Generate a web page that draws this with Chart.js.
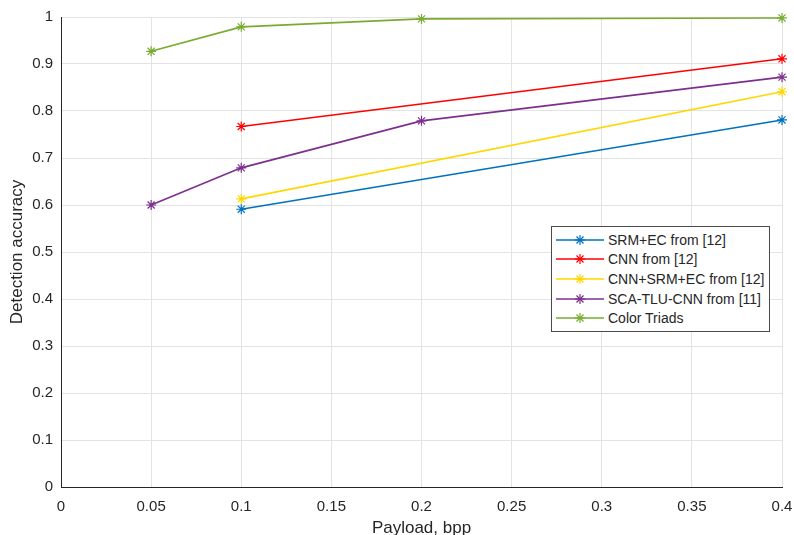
<!DOCTYPE html>
<html>
<head>
<meta charset="utf-8">
<script src="https://cdn.jsdelivr.net/npm/chart.js@4.4.0/dist/chart.umd.min.js"></script>
<style>
  html, body { margin: 0; padding: 0; background: #fff; }
  #wrap { position: relative; width: 794px; height: 535px; }
  #legend {
    position: absolute; left: 551px; top: 226px; width: 219px; height: 106px;
    border: 1px solid #4a4a4a; background: #fff; box-sizing: border-box;
    font-family: "Liberation Sans", Arial, sans-serif; font-size: 14px; color: #262626;
    padding-top: 3px;
  }
  #legend .row { height: 19.6px; display: flex; align-items: center; }
  #legend svg { margin-left: 4px; margin-right: 4px; }
</style>
</head>
<body>
<div id="wrap">
  <canvas id="accChart" width="794" height="535"></canvas>
  <div id="legend"></div>
</div>
<script>
// tick labels
const xTickLabels = ['0', '0.05', '0.1', '0.15', '0.2', '0.25', '0.3', '0.35', '0.4'];
const yTickLabels = ['0', '0.1', '0.2', '0.3', '0.4', '0.5', '0.6', '0.7', '0.8', '0.9', '1'];

// series (payload in bpp, detection accuracy)
const srmEcX = [0.1, 0.4];
const srmEcY = [0.591, 0.781];
const cnnX = [0.1, 0.4];
const cnnY = [0.767, 0.911];
const cnnSrmEcX = [0.1, 0.4];
const cnnSrmEcY = [0.613, 0.841];
const scaTluX = [0.05, 0.1, 0.2, 0.4];
const scaTluY = [0.600, 0.679, 0.779, 0.872];
const triadsX = [0.05, 0.1, 0.2, 0.4];
const triadsY = [0.927, 0.979, 0.996, 0.998];

const seriesNames = ['SRM+EC from [12]', 'CNN from [12]', 'CNN+SRM+EC from [12]', 'SCA-TLU-CNN from [11]', 'Color Triads'];
const seriesColors = ['#0072BD', '#FF0000', '#FFD700', '#7E2F8E', '#77AC30'];
const seriesX = [srmEcX, cnnX, cnnSrmEcX, scaTluX, triadsX];
const seriesY = [srmEcY, cnnY, cnnSrmEcY, scaTluY, triadsY];

const datasets = seriesNames.map(function(name, i) {
    return {
        label: name,
        data: seriesX[i].map(function(x, j) { return { x: x, y: seriesY[i][j] }; }),
        borderColor: seriesColors[i],
        backgroundColor: seriesColors[i],
        borderWidth: 1.6,
        pointStyle: 'star',
        pointRadius: 5,
        pointBorderWidth: 1.2,
        pointHoverRadius: 5,
        tension: 0,
        fill: false,
        clip: false
    };
});

const fontFamily = '"Liberation Sans", Arial, sans-serif';
const gridColor = '#e3e3e3';
const textColor = '#262626';

const ctx = document.getElementById('accChart').getContext('2d');
const accChart = new Chart(ctx, {
    type: 'line',
    data: { datasets: datasets },
    options: {
        responsive: false,
        animation: false,
        layout: { padding: { left: 0, right: 12, top: 17, bottom: 0 } },
        plugins: { legend: { display: false }, tooltip: { enabled: false } },
        scales: {
            x: {
                type: 'linear',
                min: 0,
                max: 0.4,
                afterFit: function(scale) {
                    scale.height = 48;
                    scale.paddingLeft = 0;
                    scale.paddingRight = 0;
                },
                afterBuildTicks: function(scale) {
                    scale.ticks = xTickLabels.map(function(t) { return { value: parseFloat(t) }; });
                },
                ticks: {
                    color: textColor,
                    font: { family: fontFamily, size: 15 },
                    padding: 11,
                    maxRotation: 0,
                    callback: function(value, index) { return xTickLabels[index]; }
                },
                grid: { color: gridColor, drawTicks: false },
                border: { color: textColor, width: 1 },
                title: {
                    display: true,
                    text: 'Payload, bpp',
                    color: textColor,
                    font: { family: fontFamily, size: 17 },
                    padding: { top: 0, bottom: -4 }
                }
            },
            y: {
                type: 'linear',
                min: 0,
                max: 1,
                afterFit: function(scale) {
                    scale.width = 61;
                    scale.paddingTop = 0;
                    scale.paddingBottom = 0;
                },
                afterBuildTicks: function(scale) {
                    scale.ticks = yTickLabels.map(function(t) { return { value: parseFloat(t) }; });
                },
                ticks: {
                    color: textColor,
                    font: { family: fontFamily, size: 15 },
                    padding: 8,
                    callback: function(value, index) { return yTickLabels[index]; }
                },
                grid: { color: gridColor, drawTicks: false },
                border: { color: textColor, width: 1 },
                title: {
                    display: true,
                    text: 'Detection accuracy',
                    color: textColor,
                    font: { family: fontFamily, size: 17 },
                    padding: { top: 7, bottom: 0 }
                }
            }
        }
    }
});

// legend in the plot, built from the datasets
const legendEl = document.getElementById('legend');
accChart.data.datasets.forEach(function(ds) {
    const c = ds.borderColor;
    const row = document.createElement('div');
    row.className = 'row';
    row.innerHTML =
        '<svg width="48" height="12" viewBox="0 0 48 12">' +
        '<line x1="0" y1="6" x2="48" y2="6" stroke="' + c + '" stroke-width="1.6"/>' +
        '<g stroke="' + c + '" stroke-width="1.2">' +
        '<line x1="19" y1="6" x2="29" y2="6"/><line x1="24" y1="1" x2="24" y2="11"/>' +
        '<line x1="20.5" y1="2.5" x2="27.5" y2="9.5"/><line x1="27.5" y1="2.5" x2="20.5" y2="9.5"/>' +
        '</g></svg><span>' + ds.label + '</span>';
    legendEl.appendChild(row);
});
</script>
</body>
</html>
